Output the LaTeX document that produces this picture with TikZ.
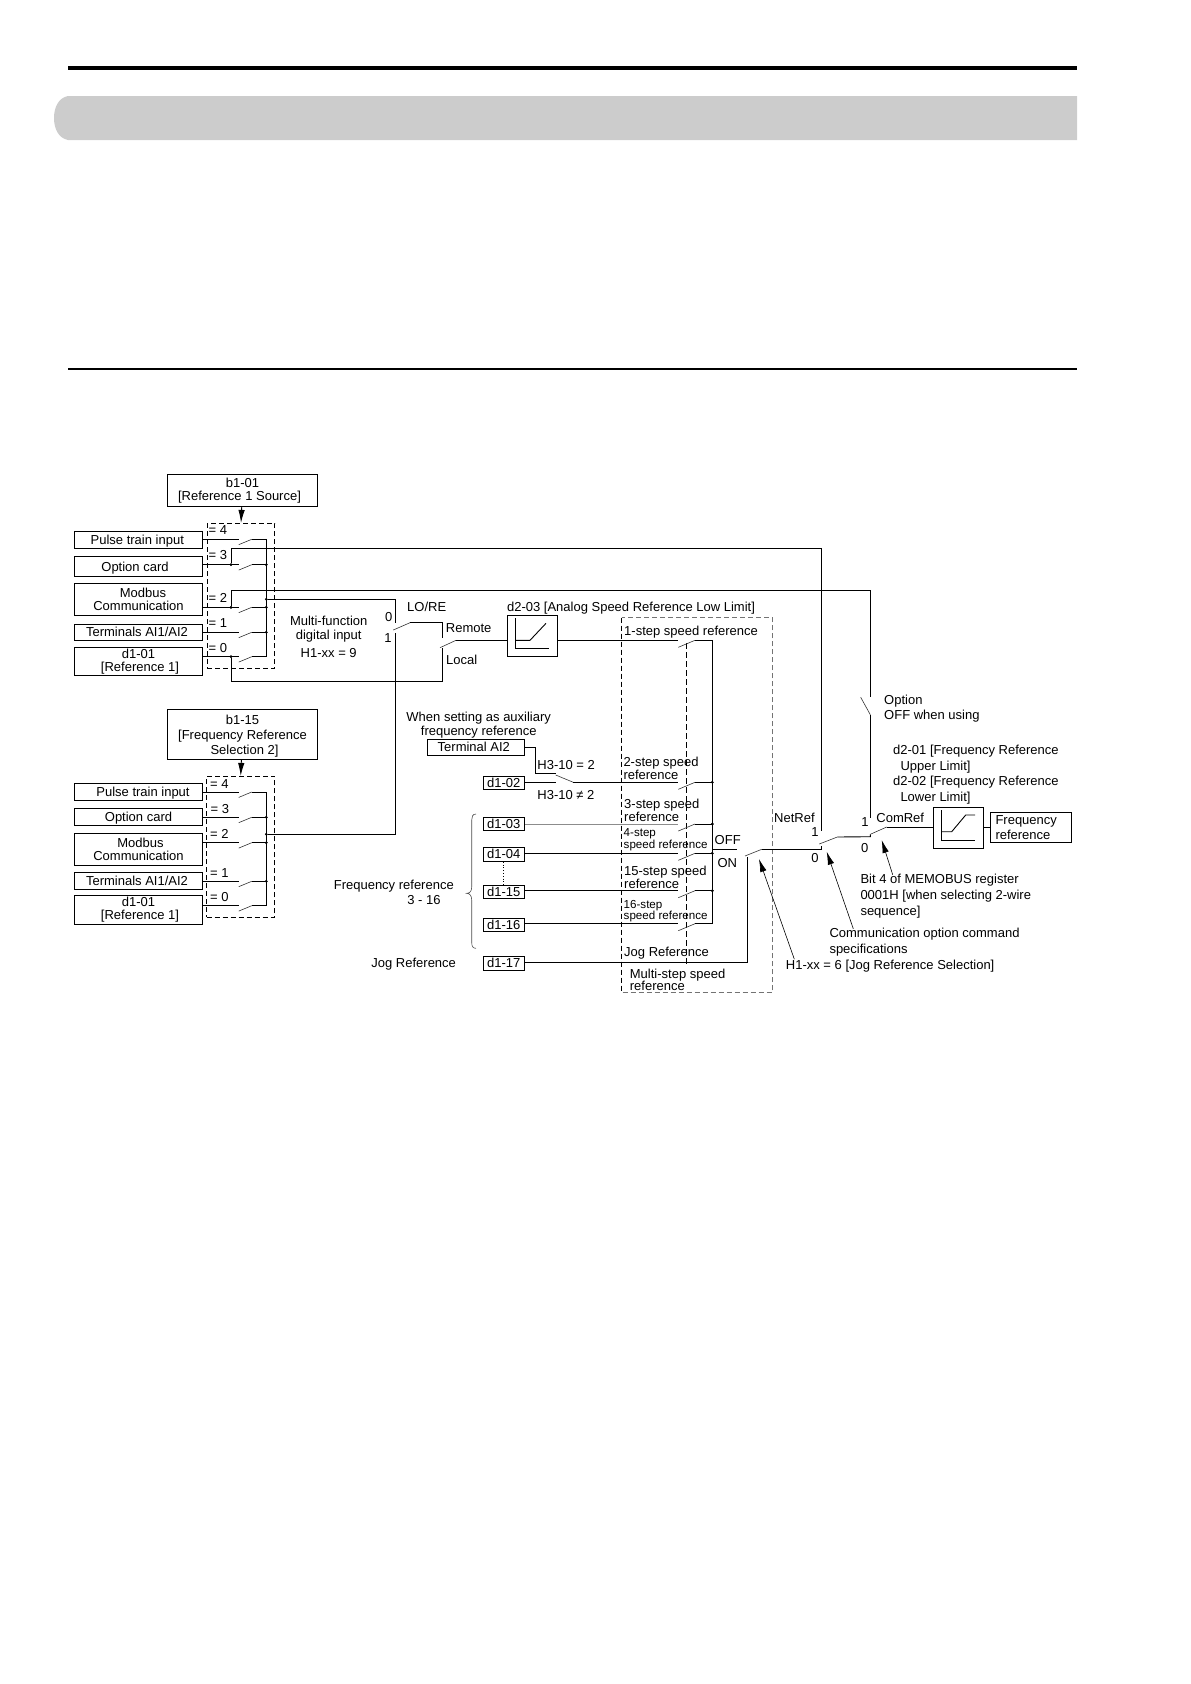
\documentclass[tikz,border=0pt]{standalone}
\usepackage{fontspec}
\setmainfont{Liberation Sans}
\usetikzlibrary{positioning,arrows.meta}
\newcommand{\lfs}[1]{\fontsize{13}{#1}\selectfont}
\tikzset{%
sbox/.style={draw,inner sep=0,line width=0.9pt,minimum width=128.4pt,align=center,font=\lfs{13}},
oneline/.style={text depth=0pt},
refbox/.style={draw,inner sep=0,line width=0.9pt,minimum width=41pt,minimum height=13pt,font=\lfs{13}},
plotbox/.style={draw,inner sep=0,line width=0.9pt,minimum width=50pt,minimum height=41pt},
selector/.style={draw,dash pattern=on 5pt off 3pt,inner sep=0,line width=0.8pt},
txt/.style={inner sep=0,yshift=-1.2pt,align=center,font=\lfs{14}},
ltxt/.style={inner sep=0,yshift=-1.2pt,anchor=west,align=left,font=\lfs{14}},
wire/.style={line width=0.9pt},
blade/.style={line width=0.6pt,black!80},
joint/.style={draw,fill,circle,minimum size=2.4pt,inner sep=0},
pointer/.style={line width=0.6pt,-{Latex[length=13pt,width=6.5pt]}}
}
\begin{document}
\begin{tikzpicture}[x=1pt,y=-1pt]
    \useasboundingbox (0,0) rectangle (1191,1684);

    % page furniture
    \fill[black] (68,66) rectangle (1077,70);
    \fill[black!20] (1077,96) -- (68,96) .. controls (58,98) and (54,108) .. (54,118)
                    .. controls (54,128) and (58,138) .. (68,140) -- (1077,140) -- cycle;
    \fill[black] (68,368) rectangle (1077,370);

    % source boxes
    \node[sbox,minimum width=150.4pt,minimum height=32pt] (bonea) at (242.5,490.3) {b1-01\\\hspace*{-6pt}[Reference 1 Source]};
    \node[sbox,oneline,minimum height=17.4pt] (pulsea) at (138.5,540) {\hspace*{-2.4pt}Pulse train input};
    \node[sbox,oneline,minimum height=20.4pt] (carda)  at (138.5,566.5) {\hspace*{-7pt}Option card};
    \node[sbox,minimum height=32pt]   (moda)   at (138.5,599.3) {\hspace*{9pt}Modbus\\Communication};
    \node[sbox,minimum height=16pt]   (terma)  at (138.5,632.3) {\hspace*{-3pt}Terminals AI1/AI2};
    \node[sbox,minimum height=28pt]   (refa)   at (138.5,661.3) {d1-01\\\hspace*{3pt}[Reference 1]};

    \node[sbox,minimum width=150.4pt,minimum height=50pt,font=\lfs{14.8}] (boneb) at (242.5,734.3) {\rule{0pt}{13.4pt}b1-15\\{}[Frequency Reference\\\hspace*{4pt}Selection 2]};
    \node[sbox,oneline,minimum height=17pt]   (pulseb) at (138.5,791.8) {\hspace*{9pt}Pulse train input};
    \node[sbox,oneline,minimum height=17pt]   (cardb)  at (138.5,816.8) {Option card};
    \node[sbox,minimum height=32pt]   (modb)   at (138.5,849.3) {\hspace*{4pt}Modbus\\Communication};
    \node[sbox,minimum height=17pt]   (termb)  at (138.5,880.8) {\hspace*{-3pt}Terminals AI1/AI2};
    \node[sbox,minimum height=29pt]   (refb)   at (138.5,909.8) {d1-01\\\hspace*{3pt}[Reference 1]};

    % dashed selectors
    \node[selector,minimum width=67.4pt,minimum height=145.4pt] (sela) at (241,596) {};
    \node[selector,minimum width=68pt,minimum height=141pt]     (selb) at (240.7,846.8) {};
    \draw[pointer,line width=0.9pt] (bonea) -- (sela.north);
    \draw[pointer,line width=0.9pt] (boneb) -- (selb.north);

    \foreach \nm/\wy in {pulsea/539.3,carda/564.7,moda/607.3,terma/632.3,refa/656.7,
                         pulseb/792,cardb/817.3,modb/842.7,termb/881.3,refb/905.7}{
      \coordinate (\nm-in)  at (238.7,\wy);
      \coordinate (\nm-tip) at (238.7,\wy+5.4);
      \coordinate (\nm-out) at (251.7,\wy);
      \coordinate (\nm-bus) at (266.3,\wy);
      \draw[wire] (\nm.east |- \nm-in) -- (\nm-in);
      \draw[blade] (\nm-tip) -- (\nm-out);
      \draw[wire] (\nm-out) -- (\nm-bus);
    }
    \draw[wire] (pulsea-bus) -- (refa-bus);
    \draw[wire] (pulseb-bus) -- (refb-bus);
    \foreach \nm in {carda,moda,terma,cardb,modb,termb}{
      \node[joint] (\nm-dot) at (\nm-bus) {};
    }
    \foreach \nm in {carda,moda,refa}{
      \node[joint] (\nm-tap) at (231,0 |- \nm-in) {};
    }

    \node[ltxt] (eqa4) at (208.5,529.3) {= 4};
    \node[ltxt] (eqa3) at (208.5,554.3) {= 3};
    \node[ltxt] (eqa2) at (208.5,596.7) {= 2};
    \node[ltxt] (eqa1) at (208.5,621.7) {= 1};
    \node[ltxt] (eqa0) at (208.5,647)   {= 0};
    \node[ltxt] (eqb4) at (210,783.3) {= 4};
    \node[ltxt] (eqb3) at (210.5,808) {= 3};
    \node[ltxt] (eqb2) at (210,832.7) {= 2};
    \node[ltxt] (eqb1) at (210,871.7) {= 1};
    \node[ltxt] (eqb0) at (210,896.3) {= 0};

    % LO/RE
    \node[joint] (busa) at (266.3,599.3) {};
    \node[joint] (busb) at (266.3,834.3) {};
    \coordinate (lorea)   at (395.7,623.3);
    \coordinate (loreb)   at (395.7,632.7);
    \coordinate (loretip) at (393.3,630);
    \coordinate (loreout) at (410,622.7);
    \coordinate (remote)  at (442.7,638.3);
    \coordinate (local)   at (442.7,647.7);
    \coordinate (localb)  at (442.7,681.3);
    \coordinate (loctip)  at (440,647.7);
    \coordinate (locout)  at (456,640.3);
    \draw[wire] (busa) -| (lorea);
    \draw[wire] (busb) -| (loreb);
    \draw[blade] (loretip) -- (loreout);
    \draw[wire] (loreout) -| (remote);
    \draw[wire] (refa-tap) |- (localb) -- (local);
    \draw[blade] (loctip) -- (locout);

    \node[txt] (mfi) at (328.7,636) {Multi-function\\digital input\\[4.2pt]H1-xx = 9};
    \node[txt] (lbllore) at (426.7,606) {LO/RE};
    \node[txt] (lorezero) at (388.7,616) {0};
    \node[txt] (loreone) at (388,637.3) {1};
    \node[ltxt] (lblremote) at (445.7,626.7) {Remote};
    \node[ltxt] (lbllocal) at (446,658.3) {Local};

    % multi-step selector
    \draw[dash pattern=on 5pt off 3pt,black!55,line width=0.9pt] (621.7,617.7) rectangle (772.3,992.7);
    \draw[dash pattern=on 5pt off 3pt,line width=0.7pt] (621.7,617.7) -- (621.7,992.7);
    \draw[dash pattern=on 6pt off 3pt,line width=0.8pt] (686.3,643.3) -- (686.3,966.7);

    \node[plotbox] (lowlim) at (532.3,635.6) [minimum height=41.3pt] {};
    \draw[wire] (515.3,618.3) -- (515.3,648.3) -- (549,648.3);
    \draw[wire] (515.3,640.3) -- (530,640.3) -- (546,623.3);
    \node[txt] (lbllowlim) at (631,606.7) {d2-03 [Analog Speed Reference Low Limit]};
    \node[sbox,minimum width=97pt,minimum height=16pt] (aitwo) at (475.8,747.3) {\hspace*{-4pt}Terminal AI2};
    \node[refbox] (dtwo)     at (503.8,783)   {d1-02};
    \node[refbox] (dthree)   at (503.8,824)   {d1-03};
    \node[refbox] (dfour)    at (503.8,854.3) [minimum height=14pt] {d1-04};
    \node[refbox] (dfifteen) at (503.8,891.8) {d1-15};
    \node[refbox] (dsixteen) at (503.8,924.8) {d1-16};
    \node[refbox] (djog)     at (503.8,963.2) [minimum height=13.7pt] {d1-17};
    \draw[dotted,line width=0.8pt] (dfour) -- (dfifteen);

    \foreach \nm/\wy in {stepa/640.3,stepb/782.3,stepc/824,stepd/853.3,stepo/890.7,stepp/923.7}{
      \coordinate (\nm-in)  at (678.3,\wy);
      \coordinate (\nm-tip) at (678.3,\wy+7);
      \coordinate (\nm-out) at (695,\wy);
      \coordinate (\nm-bus) at (712.3,\wy);
      \draw[blade] (\nm-tip) -- (\nm-out);
      \draw[wire] (\nm-out) -- (\nm-bus);
    }
    \foreach \nm in {stepb,stepc,stepd,stepo}{
      \node[joint] (\nm-dot) at (\nm-bus) {};
    }
    \draw[wire] (stepa-bus) -- (stepp-bus);
    \draw[wire] (lowlim.east |- stepa-in) -- (stepa-in);
    \draw[wire] (locout) -- (lowlim.west |- locout);
    \draw[wire,black!45] (dthree.east |- stepc-in) -- (stepc-in);
    \draw[wire] (dfour.east |- stepd-in) -- (stepd-in);
    \draw[wire] (dfifteen.east |- stepo-in) -- (stepo-in);
    \draw[wire] (dsixteen.east |- stepp-in) -- (stepp-in);

    % H3-10
    \coordinate (hbend) at (535.7,773);
    \coordinate (hup)   at (555.7,773);
    \coordinate (hlow)  at (555.7,782.3);
    \coordinate (hout)  at (573.3,782.3);
    \draw[wire] (aitwo.east) -| (hbend) -- (hup);
    \draw[wire] (dtwo.east |- hlow) -- (hlow);
    \draw[blade] (555.7,775) -- (hout);
    \draw[wire] (hout) -- (stepb-in);

    \node[txt] (lblaux) at (478.7,723.7) {When setting as auxiliary\\frequency reference};
    \node[ltxt] (lblhone) at (537.2,764) {H3-10 = 2};
    \node[ltxt] (lblhtwo) at (537.2,794) {H3-10 ≠ 2};
    \node[ltxt] (lblstepa) at (624,630.7) {1-step speed reference};
    \node[ltxt,font=\lfs{12}] (lblstepb) at (623.3,766.8) {2-step speed\\reference};
    \node[ltxt,font=\lfs{13}] (lblstepc) at (624,809.5) {3-step speed\\reference};
    \node[ltxt,font=\fontsize{11.6}{11.6}\selectfont] (lblstepd) at (623.5,838.5) {4-step\\speed reference};
    \node[ltxt,font=\lfs{12}] (lblstepo) at (624,876) {15-step speed\\reference};
    \node[ltxt,font=\fontsize{11.6}{11}\selectfont] (lblstepp) at (623.5,909.7) {16-step\\speed reference};
    \node[ltxt] (lbljogb) at (624,952.3) {Jog Reference};
    \node[ltxt,font=\lfs{12.4}] (lblmulti) at (629.7,978.5) {Multi-step speed\\reference};

    % brace and left captions
    \draw[line width=0.6pt,black!70] (476,814) .. controls (472.5,814) and (471.7,817) .. (471.7,820) -- (471.7,887)
          .. controls (471.7,891) and (470,893.3) .. (466.7,893.3)
          .. controls (470,893.3) and (471.7,896) .. (471.7,900) -- (471.7,942)
          .. controls (471.7,946) and (472.5,948.3) .. (476,948.3);
    \node[txt] (lblfreqa) at (393.8,885) {Frequency reference};
    \node[txt] (lblfreqb) at (424,898.7) {3 - 16};
    \node[txt] (lbljoga) at (413.7,963.3) {Jog Reference};

    % jog switch
    \coordinate (jogup)  at (747.7,856.7);
    \coordinate (jogtip) at (745,856);
    \coordinate (jogout) at (761.7,849.3);
    \coordinate (offend) at (736.7,849.3);
    \draw[wire] (djog.east |- 0,962.3) -| (jogup);
    \draw[wire] (712.3,849.3) -- (offend);
    \draw[blade] (jogtip) -- (jogout);
    \node[txt] (lbloff) at (727.7,839) {OFF};
    \node[txt] (lblon)  at (727.3,862.3) {ON};

    % NetRef switch
    \coordinate (nettop) at (821.7,548.7);
    \coordinate (netone) at (821.7,830.7);
    \coordinate (netzero) at (821.7,849.3);
    \coordinate (netstub) at (821.7,845.5);
    \coordinate (nettip) at (819.3,844);
    \coordinate (netout) at (837.3,837);
    \draw[wire] (carda-tap) |- (nettop) -- (netone);
    \draw[wire] (jogout) -- (netzero) -- (netstub);
    \draw[blade] (nettip) -- (netout);
    \node[ltxt] (lblnet) at (774,816.3) {NetRef};
    \node[txt] (netlblone) at (815,830.7) {1};
    \node[txt] (netlblzero) at (815,856.7) {0};

    % option switch and ComRef switch
    \coordinate (opttop) at (870.3,590.3);
    \coordinate (optgap) at (870.3,696.7);
    \coordinate (opttip) at (860.7,697.3);
    \coordinate (optlow) at (870.3,714.7);
    \coordinate (comone) at (870.3,818.3);
    \coordinate (comzero) at (870.3,836.7);
    \coordinate (comtip) at (870.3,834.3);
    \coordinate (comout) at (886.7,827);
    \draw[wire] (moda-tap) |- (opttop) -- (optgap);
    \draw[blade] (opttip) -- (optlow);
    \draw[wire] (optlow) -- (comone);
    \draw[wire] (netout) -- (comzero) -- (comtip);
    \draw[blade] (comtip) -- (comout);
    \node[txt] (comlblone) at (865,821) {1};
    \node[txt] (comlblzero) at (864.7,847) {0};
    \node[ltxt] (lblcom) at (876.2,816.7) {ComRef};

    \node[plotbox] (upplim) at (958.5,827.8) {};
    \draw[wire] (941.3,810.3) -- (941.3,840.7) -- (975,840.7);
    \draw[wire] (941.3,831.7) -- (951.7,831.7) -- (965.7,815) -- (975,815);
    \node[sbox,minimum width=81pt,minimum height=30pt,align=left,font=\lfs{15}] (freqref) at (1031.2,827.3) {Frequency\hspace*{10pt}\\reference};
    \draw[wire] (comout) -- (upplim.west |- comout);
    \draw[wire] (upplim.east |- comout) -- (freqref.west |- comout);

    \node[ltxt,font=\lfs{15.4}] (lblopt) at (884,707.3) {Option\\OFF when using};
    \node[ltxt,font=\lfs{15.6}] (lbllimits) at (893,773.3) {d2-01 [Frequency Reference\\\hspace*{7.3pt}Upper Limit]\\d2-02 [Frequency Reference\\\hspace*{7.3pt}Lower Limit]};
    \node[ltxt,font=\lfs{15.7}] (lblbit) at (860.3,895) {Bit 4 of MEMOBUS register\\0001H [when selecting 2-wire\\sequence]};
    \node[ltxt,font=\lfs{15.7}] (lblcomm) at (829.3,941.2) {Communication option command\\specifications};
    \node[ltxt] (lbljogsel) at (785.7,965.2) {H1-xx = 6 [Jog Reference Selection]};

    % pointers
    \draw[pointer] (lblbit.north west) ++(32.4,0.5) coordinate (ptbit) (ptbit) -- (881.7,840);
    \draw[pointer] (lblcomm.north west) ++(24,0.5) coordinate (ptcomm) (ptcomm) -- (826.7,851.7);
    \draw[pointer] (lbljogsel.north west) ++(8.6,-1) coordinate (ptjog) (ptjog) -- (759,859);

\end{tikzpicture}
\end{document}
